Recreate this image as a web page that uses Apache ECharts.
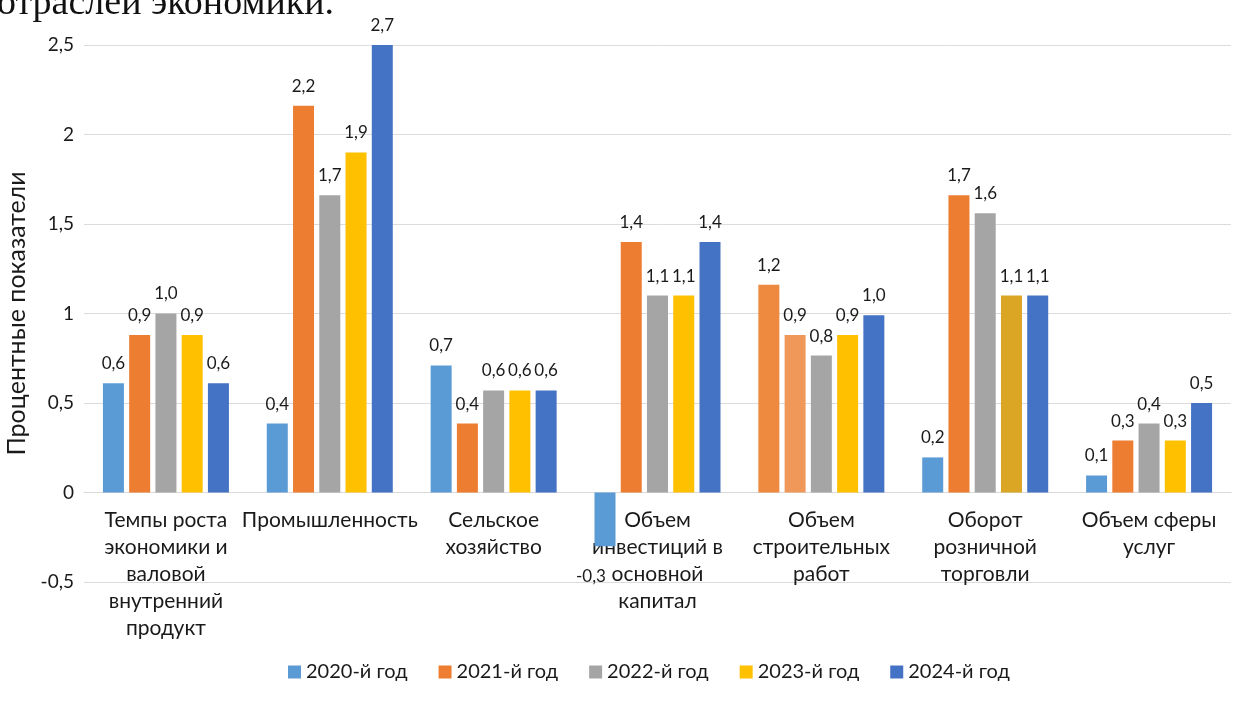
<!DOCTYPE html>
<html>
<head>
<meta charset="utf-8">
<script src="https://cdn.jsdelivr.net/npm/echarts@6/dist/echarts.min.js"></script>
<style>
  html, body { margin: 0; padding: 0; background: #ffffff; }
  #chart { width: 1233px; height: 724px; }
</style>
</head>
<body>
<div id="chart"></div>
<script>
// Отрасли экономики (категории оси X)
const categories = [
  'Темпы роста\nэкономики и\nваловой\nвнутренний\nпродукт',
  'Промышленность',
  'Сельское\nхозяйство',
  'Объем\nинвестиций в\nосновной\nкапитал',
  'Объем\nстроительных\nработ',
  'Оборот\nрозничной\nторговли',
  'Объем сферы\nуслуг'
];

// Годы (серии)
const years = ['2020-й год', '2021-й год', '2022-й год', '2023-й год', '2024-й год'];

// Процентные показатели по годам
const values2020 = [0.61, 0.385, 0.71, -0.3, 1.16, 0.196, 0.095];
const values2021 = [0.88, 2.16, 0.385, 1.40, 0.88, 1.66, 0.29];
const values2022 = [1.0, 1.66, 0.57, 1.10, 0.765, 1.56, 0.385];
const values2023 = [0.88, 1.9, 0.57, 1.10, 0.88, 1.10, 0.29];
const values2024 = [0.61, 2.7, 0.57, 1.40, 0.99, 1.10, 0.50];

// Метки оси Y
const yTicks = [-0.5, 0, 0.5, 1, 1.5, 2, 2.5];

const palette = ['#5B9BD5', '#ED7D31', '#A5A5A5', '#FFC000', '#4472C4'];

// Отдельные столбцы с иным оттенком (серия-категория)
const colorOverrides = {
  '0-4': '#ED8A3F',
  '1-4': '#F0985A',
  '3-5': '#DBA624'
};

const seriesValues = [values2020, values2021, values2022, values2023, values2024];

const fontFamily = 'Lato, "Open Sans", sans-serif';
const textColor = '#1a1a1a';

const fmt = v => v.toFixed(1).replace('.', ',');

// Геометрия области построения
const gridTop = 45;
const gridBottom = 142;
const chartHeight = 724;
const yMin = yTicks[0];
const yMax = yTicks[yTicks.length - 1];
const plotHeight = chartHeight - gridTop - gridBottom;
// Сдвиг оси категорий к нулевой линии
const zeroOffset = -plotHeight * (0 - yMin) / (yMax - yMin);

const chart = echarts.init(document.getElementById('chart'), null, { renderer: 'canvas' });

const series = seriesValues.map((vals, si) => ({
  name: years[si],
  type: 'bar',
  barWidth: 21,
  barGap: '25%',
  itemStyle: { color: palette[si] },
  data: vals.map((v, ci) => {
    const item = { value: v };
    const c = colorOverrides[si + '-' + ci];
    if (c) item.itemStyle = { color: c };
    // подпись отрицательного значения — под столбцом, чуть левее
    if (v < 0) item.label = { position: 'bottom', distance: 22, offset: [-14, 0] };
    return item;
  }),
  label: {
    show: true,
    position: 'top',
    distance: 11,
    color: textColor,
    fontSize: 17,
    fontFamily: fontFamily,
    formatter: p => fmt(p.value)
  },
  clip: true
}));

chart.setOption({
  backgroundColor: '#ffffff',
  animation: false,
  textStyle: { fontFamily: fontFamily },
  graphic: [{
    type: 'text',
    left: -3,
    top: -15,
    style: {
      text: 'отраслей экономики.',
      font: '38px "Liberation Serif", "DejaVu Serif", serif',
      fill: '#111111'
    }
  }],
  grid: {
    left: 84, right: 2, top: gridTop, bottom: gridBottom,
    outerBoundsMode: 'none'
  },
  legend: {
    data: years,
    top: 657,
    left: 283,
    itemWidth: 13,
    itemHeight: 13,
    itemGap: 31,
    icon: 'rect',
    textStyle: { fontSize: 20, color: textColor, fontFamily: fontFamily }
  },
  xAxis: {
    type: 'category',
    data: categories,
    offset: zeroOffset,
    axisTick: { show: false },
    axisLine: { show: true, onZero: false, lineStyle: { color: '#d9d9d9', width: 1 } },
    axisLabel: {
      interval: 0,
      margin: 14,
      fontSize: 21,
      lineHeight: 27,
      color: textColor,
      fontFamily: fontFamily,
      align: 'center'
    }
  },
  yAxis: {
    type: 'value',
    min: yMin,
    max: yMax,
    interval: 0.5,
    name: 'Процентные показатели',
    nameLocation: 'middle',
    nameGap: 54,
    nameTextStyle: { fontSize: 25, color: textColor, fontFamily: fontFamily },
    axisLine: { show: false },
    axisTick: { show: false },
    splitLine: { lineStyle: { color: '#dcdcdc', width: 1 } },
    axisLabel: {
      margin: 10,
      fontSize: 19,
      color: textColor,
      fontFamily: fontFamily,
      formatter: v => String(v).replace('.', ',')
    }
  },
  series: series
});
</script>
</body>
</html>
